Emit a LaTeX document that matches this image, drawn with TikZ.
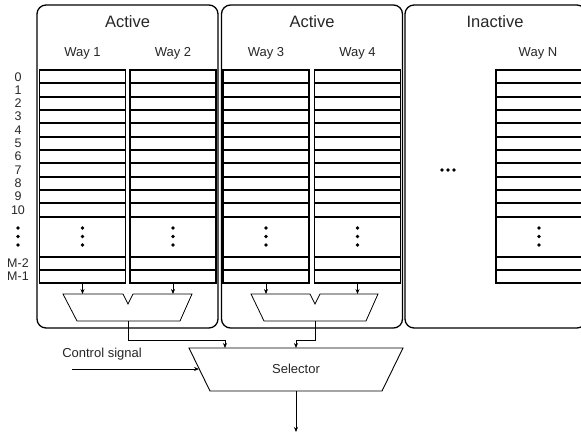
\documentclass[tikz,border=0pt]{standalone}
\usepackage{fontspec}
\setmainfont{Liberation Sans}
\usetikzlibrary{arrows.meta}

\begin{document}
\begin{tikzpicture}[x=1pt,y=-1pt,
  >={Stealth[length=5pt,width=4pt]},
  panel/.style={draw, line width=1.3pt, rounded corners=9pt, minimum width=181pt, minimum height=323pt, inner sep=0pt},
  way/.style={draw, line width=1.6pt, minimum width=86pt, minimum height=213pt, inner sep=0pt},
  rowline/.style={line width=1.5pt},
  mux/.style={draw, line width=0.8pt},
  conn/.style={->, line width=0.7pt},
  title/.style={text=black!85, font=\fontsize{16.5}{18}\selectfont},
  head/.style={text=black!85, font=\fontsize{13}{15}\selectfont},
  idx/.style={text=black!85, inner sep=0pt, font=\fontsize{12.5}{12.5}\selectfont}]

\useasboundingbox (0,0) rectangle (581,434);
\clip (0,0) rectangle (581,434);

% the three groups of ways
\node[panel] (grp1) at (127.5,166.5) {};
\node[panel] (grp2) at (312,166.5) {};
\node[panel] (grp3) at (495.5,166.5) {};

\node[title] (tit1) at (127.5,22) {Active};
\node[title] (tit2) at (312,22) {Active};
\node[title] (tit3) at (495,22) {Inactive};

% ways
\node[way] (way1) at (82.5,176.5) {};
\node[way] (way2) at (173,176.5) {};
\node[way] (way3) at (266,176.5) {};
\node[way] (way4) at (357.5,176.5) {};
\node[way] (wayN) at (539,176.5) {};

\node[head] (hd1) at (82.5,53) {Way 1};
\node[head] (hd2) at (173,53) {Way 2};
\node[head] (hd3) at (266,53) {Way 3};
\node[head] (hd4) at (357.5,53) {Way 4};
\node[head] (hdN) at (538,53) {Way N};

\foreach \w in {way1,way2,way3,way4,wayN}{
  \foreach \y in {83,97,110,123,137,150,163,177,190,203,217,257,270}
    \draw[rowline] (\w.west |- 0,\y) -- (\w.east |- 0,\y);
  \foreach \y in {228,236.5,245}
    \fill (\w.center |- 0,\y) circle (1.9pt);
}

% row numbers
\foreach \i in {0,...,10}
  \node[idx] (row\i) at (18,{76.7+13.33*\i}) {\i};
\foreach \y in {228,236.5,245}
  \fill (18,\y) circle (1.9pt);
\node[idx] (rowm2) at (18,263.5) {M-2};
\node[idx] (rowm1) at (18,276.5) {M-1};

% dots between the groups
\foreach \x in {442,448,454}
  \fill (\x,170) circle (1.8pt);

% multiplexers
\draw[mux] (63,294) -- (123,294) -- (128,304) -- (133,294) -- (192,294) -- (180,321) -- (77,321) -- cycle;
\coordinate (mux1top) at (128,294);
\coordinate (mux1out) at (128,321);
\draw[mux] (251,294) -- (310,294) -- (315,304) -- (320,294) -- (378,294) -- (366,321) -- (264,321) -- cycle;
\coordinate (mux2top) at (315,294);
\coordinate (mux2out) at (315,321);

\draw[conn] (way1.south) -- (way1.south |- mux1top);
\draw[conn] (way2.south) -- (way2.south |- mux1top);
\draw[conn] (way3.south) -- (way3.south |- mux2top);
\draw[conn] (way4.south) -- (way4.south |- mux2top);

% selector
\draw[line width=0.9pt] (189,348) -- (403,348) -- (382,391) -- (210,391) -- cycle;
\node[head] (sel) at (296,369) {Selector};
\coordinate (selin1) at (225,348);
\coordinate (selin2) at (296,348);
\coordinate (selleft) at (199,369);
\coordinate (selout) at (296,391);
\coordinate (out) at (296,432);

\draw[conn] (mux1out) -- (mux1out |- 0,340) -| (selin1);
\draw[conn] (mux2out) -- (mux2out |- 0,340) -| (selin2);
\draw[conn] (selout) -- (out);

\node[head] (ctrl) at (102,354) {Control signal};
\coordinate (ctrlin) at (72,369);
\draw[conn] (ctrlin) -- (selleft);
\end{tikzpicture}
\end{document}
